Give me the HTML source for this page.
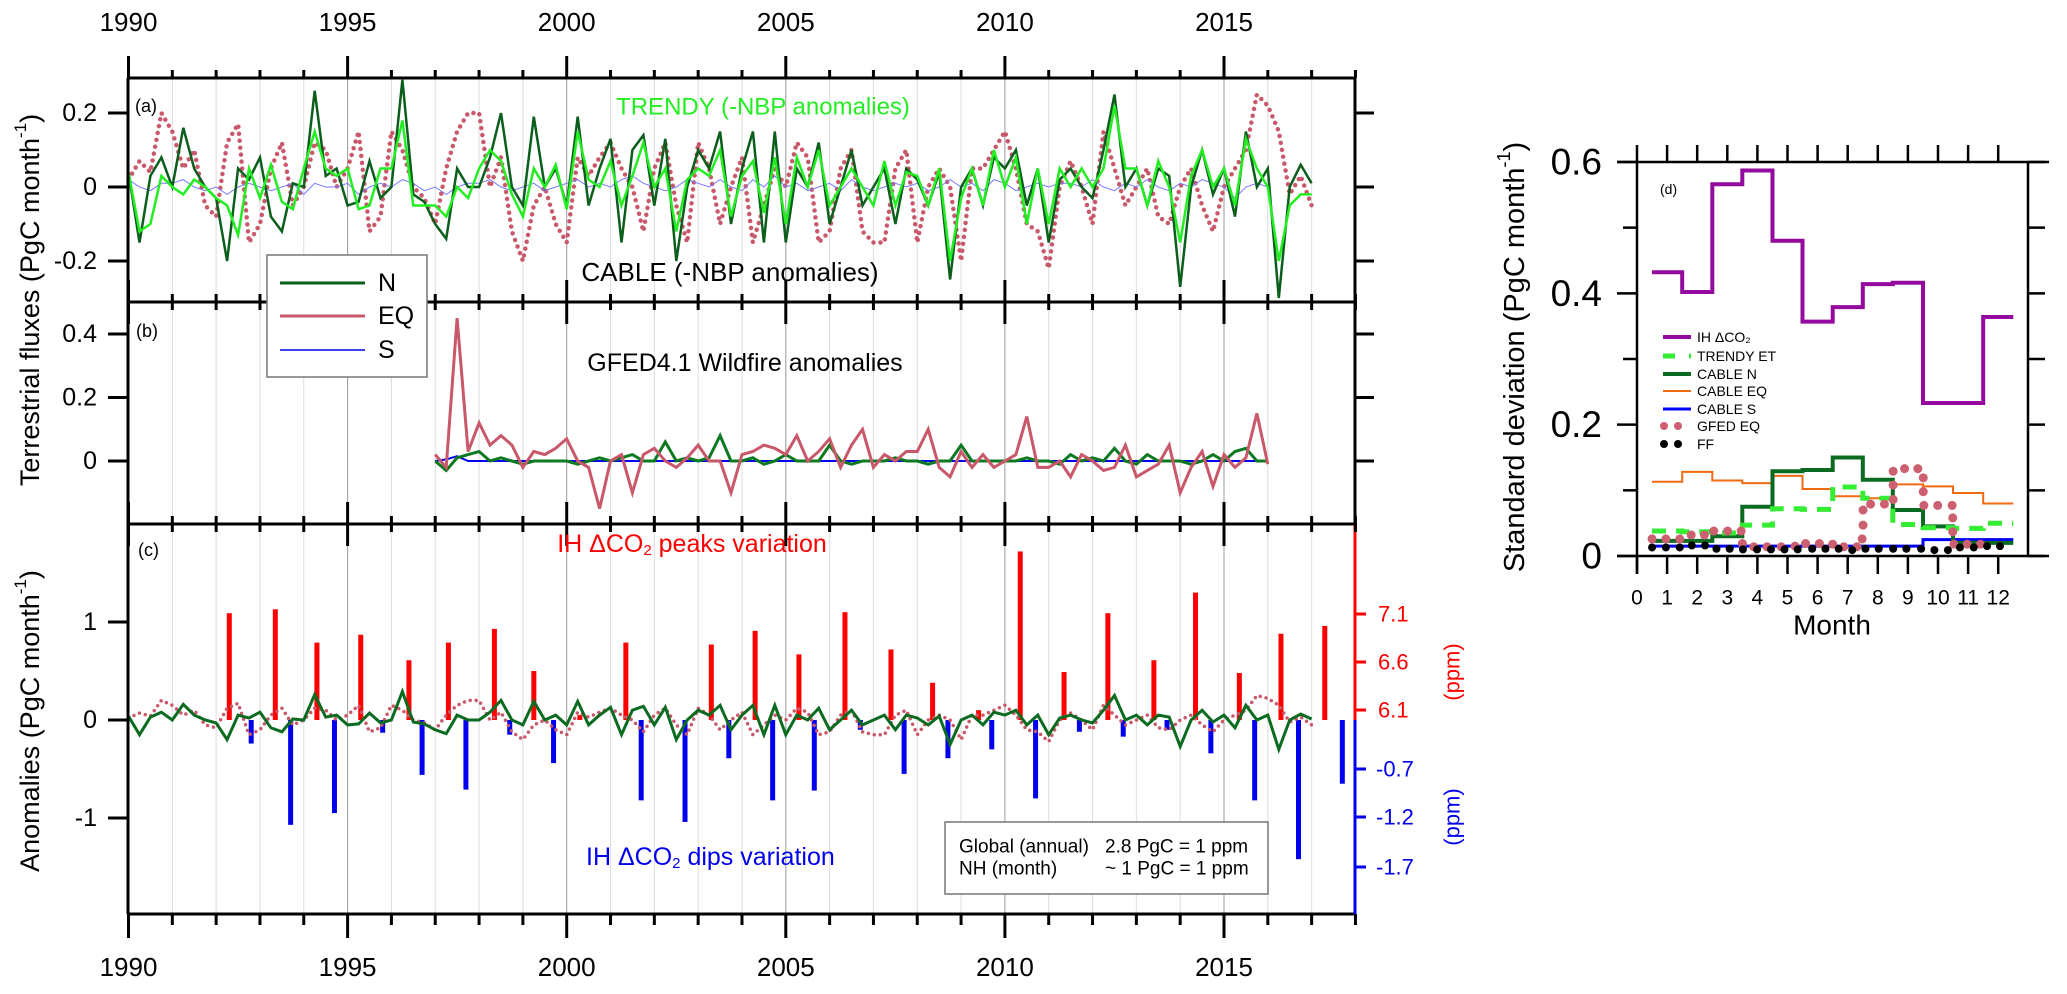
<!DOCTYPE html>
<html><head><meta charset="utf-8"><style>
html,body{margin:0;padding:0;background:#fff;}
svg{display:block;font-family:"Liberation Sans",Arial,sans-serif;}
</style></head><body>
<svg id="chart" width="2067" height="994" viewBox="0 0 2067 994" xmlns="http://www.w3.org/2000/svg"></svg>
<script>
// ---------- data: panels a/c (quarterly from 1990.0) ----------
const nA = [0.04,-0.15,0.03,0.08, 0.0,0.16,0.05,0.0, -0.03,-0.2,0.05,0.02, 0.08,-0.08,-0.12,0.01, 0.0,0.26,0.03,0.05, -0.05,-0.04,0.07,-0.03, 0.0,0.29,-0.02,-0.04, -0.1,-0.14,0.05,0.0, 0.0,0.08,0.2,0.0, -0.05,0.19,0.0,0.05, -0.05,0.19,-0.05,0.05, 0.13,-0.15,0.1,0.14, -0.05,0.13,-0.2,0.0, 0.1,0.05,0.15,-0.1, 0.05,0.15,-0.15,0.15, -0.15,0.05,0.0,0.12, -0.1,0.0,0.1,-0.05, 0.0,0.05,-0.1,0.05, 0.02,-0.05,0.04,-0.25, 0.0,0.05,-0.05,0.08, 0.05,0.1,-0.05,0.05, -0.15,0.02,0.05,0.0, -0.03,0.1,0.25,0.0, 0.05,-0.05,0.05,0.03, -0.27,0.0,0.1,-0.02, 0.05,-0.08,0.15,0.0, 0.05,-0.3,0.0,0.06, 0.01];
const trendyA = [0.04,-0.12,-0.1,0.03, 0.0,-0.02,0.02,0.0, -0.03,-0.05,-0.13,0.05, -0.03,0.06,-0.04,-0.06, 0.05,0.15,0.05,0.03, 0.05,-0.06,-0.05,0.05, 0.05,0.18,-0.05,-0.05, -0.05,-0.08,0.0,-0.03, 0.05,0.1,0.07,-0.02, -0.08,0.05,0.0,0.06, -0.06,0.15,0.02,0.0, 0.07,-0.05,0.03,0.12, 0.0,0.05,-0.12,0.02, 0.05,0.03,0.1,-0.08, 0.03,0.07,-0.07,0.08, -0.1,0.08,0.0,0.1, -0.05,0.0,0.05,0.0, -0.05,0.07,-0.05,0.04, 0.03,-0.05,0.05,-0.2, -0.03,0.05,-0.05,0.1, 0.0,0.08,-0.1,0.05, -0.1,0.05,0.0,0.05, 0.0,0.05,0.22,0.05, 0.05,-0.05,0.07,0.0, -0.15,0.03,0.1,0.0, 0.05,-0.05,0.13,0.05, 0.0,-0.2,-0.05,-0.02, -0.02];
const eqA = [0.02,0.07,0.04,0.2, 0.15,0.05,0.1,-0.05, -0.08,0.12,0.17,-0.15, -0.1,0.05,0.12,-0.05, 0.0,0.12,0.1,0.0, 0.05,0.15,-0.12,-0.08, 0.15,0.1,0.0,-0.03, -0.1,0.05,0.15,0.2, 0.2,0.0,0.08,-0.12, -0.2,-0.05,0.0,-0.1, -0.15,0.08,0.03,0.08, 0.12,0.05,0.0,-0.12, 0.05,0.12,-0.05,-0.15, 0.12,0.05,-0.1,0.0, 0.08,-0.15,-0.05,0.05, 0.0,0.12,0.08,-0.15, -0.12,0.05,0.1,-0.12, -0.15,-0.15,0.05,0.1, -0.15,0.0,0.05,0.0, -0.2,0.05,0.05,0.1, 0.15,0.05,-0.1,-0.12, -0.22,0.0,0.07,0.0, -0.1,0.15,0.05,-0.05, 0.0,0.05,-0.08,-0.1, 0.0,0.05,-0.05,-0.12, 0.0,0.05,0.1,0.25, 0.22,0.15,-0.02,0.03, -0.05];
const sA = [0.02,0.0,-0.01,0.01, 0.01,0.02,0.0,-0.01, 0.0,-0.02,0.0,0.01, 0.0,-0.01,0.0,0.01, -0.02,0.01,0.0,0.0, 0.01,-0.02,0.0,0.01, 0.0,0.02,0.01,-0.01, 0.0,-0.02,0.0,0.01, 0.01,0.02,0.0,-0.01, 0.0,0.01,-0.01,0.0, 0.01,0.02,0.0,0.01, 0.0,0.02,0.03,0.01, 0.0,-0.01,0.0,0.02, 0.01,0.0,0.02,0.0, -0.01,0.02,0.0,0.03, 0.0,0.01,-0.01,0.0, 0.01,-0.01,0.02,0.0, -0.01,0.0,0.01,0.0, 0.01,-0.01,0.0,0.02, 0.0,0.01,-0.01,0.02, 0.01,-0.01,0.0,0.01, 0.0,0.01,0.01,0.0, 0.02,0.0,-0.01,0.01, 0.0,0.02,0.0,-0.01, 0.01,0.0,0.02,0.01, 0.0,-0.03,0.0,0.01, 0.0];
// ---------- data: panel b (quarterly from 1997.0) ----------
const eqB = [0.02,-0.02,0.45,0.03, 0.12,0.05,0.08,0.05, -0.02,0.03,0.02,0.04, 0.07,0.0,-0.02,-0.15, 0.0,0.02,-0.1,0.02, 0.04,0.0,-0.02,0.01, 0.05,0.0,0.0,-0.1, 0.02,0.03,0.05,0.04, 0.02,0.08,0.0,0.03, 0.07,-0.02,0.05,0.1, -0.02,0.02,0.0,0.03, 0.03,0.1,-0.02,-0.05, 0.03,-0.02,0.02,-0.02, 0.0,0.02,0.14,-0.02, -0.02,0.0,-0.05,0.02, 0.0,-0.03,-0.02,0.05, -0.05,-0.03,-0.01,0.05, -0.1,-0.02,0.03,-0.08, 0.02,-0.02,0.01,0.15, -0.01];
const nB = [0.0,-0.03,0.01,0.02, 0.03,0.0,0.01,0.0, -0.01,0.0,0.0,0.0, 0.0,-0.01,0.0,0.01, 0.0,0.01,0.02,0.0, 0.0,0.06,0.0,0.01, 0.0,0.01,0.08,0.0, 0.0,0.01,-0.01,0.0, 0.02,0.0,0.0,0.0, 0.05,0.0,-0.01,0.0, 0.0,0.0,0.01,0.0, 0.0,-0.01,0.0,0.0, 0.05,0.0,0.0,0.0, 0.0,0.0,0.01,0.0, 0.0,-0.01,0.02,0.0, 0.01,0.0,0.04,0.0, -0.01,0.02,0.0,0.0, 0.0,-0.01,0.0,0.02, 0.0,0.03,0.04,0.0, 0.0];
const sB = [0.0,0.005,0.015,0.0, 0.0,0.0,0.0,0.0, 0.0,0.0,0.0,0.0, 0.0,0.0,0.0,0.0, 0.0,0.0,0.0,0.0, 0.0,0.0,0.0,0.0, 0.0,0.0,0.0,0.0, 0.0,0.0,0.0,0.0, 0.0,0.0,0.0,0.0, 0.0,0.0,0.0,0.0, 0.0,0.0,0.0,0.0, 0.0,0.0,0.0,0.0, 0.0,0.0,0.0,0.0, 0.0,0.0,0.0,0.0, 0.0,0.0,0.0,0.0, 0.0,0.0,0.0,0.0, 0.0,0.0,0.0,0.0, 0.0,0.0,0.0,0.0, 0.0,0.0,0.0,0.0, 0.0];
// ---------- data: panel c bars ----------
const peakYears = [1992.3,1993.35,1994.3,1995.3,1996.4,1997.3,1998.35,1999.25,2000.3,2001.35,2003.3,2004.3,2005.3,2006.35,2007.4,2008.35,2009.4,2010.35,2011.35,2012.35,2013.4,2014.35,2015.35,2016.3,2017.3];
const peakVals  = [1.09,1.13,0.79,0.87,0.61,0.79,0.93,0.50,0.05,0.79,0.77,0.91,0.67,1.10,0.72,0.38,0.10,1.72,0.49,1.09,0.61,1.30,0.48,0.88,0.96];
const dipYears = [1992.8,1993.7,1994.7,1995.8,1996.7,1997.7,1998.7,1999.7,2001.7,2002.7,2003.7,2004.7,2005.65,2006.7,2007.7,2008.7,2009.7,2010.7,2011.7,2012.7,2013.7,2014.7,2015.7,2016.7,2017.7];
const dipVals  = [-0.24,-1.07,-0.95,-0.13,-0.56,-0.71,-0.15,-0.44,-0.82,-1.04,-0.39,-0.82,-0.72,-0.10,-0.55,-0.39,-0.30,-0.80,-0.12,-0.17,-0.10,-0.34,-0.82,-1.42,-0.65];
const peakTicks = ["7.1","6.6","6.1"];
const dipTicks = ["-0.7","-1.2","-1.7"];
// ---------- data: panel d ----------
const months = [1,2,3,4,5,6,7,8,9,10,11,12];
const ihStd = [0.432,0.402,0.566,0.587,0.480,0.357,0.379,0.414,0.416,0.233,0.233,0.364];
const trendyStd = [0.038,0.037,0.035,0.047,0.072,0.071,0.105,0.088,0.048,0.043,0.042,0.050];
const cableNStd = [0.023,0.023,0.030,0.075,0.129,0.131,0.150,0.116,0.070,0.045,0.020,0.020];
const cableEQStd = [0.113,0.128,0.115,0.111,0.122,0.102,0.091,0.088,0.109,0.106,0.096,0.080];
const cableSStd = [0.015,0.015,0.015,0.015,0.015,0.015,0.015,0.015,0.015,0.025,0.025,0.025];
const gfedX = [0.50,0.96,1.42,1.80,2.24,2.55,3.01,3.46,3.50,3.88,4.32,4.79,5.25,5.60,6.06,6.50,6.87,7.31,7.48,7.51,7.51,7.76,8.22,8.51,8.51,8.51,8.89,9.33,9.51,9.51,9.53,9.99,10.47,10.49,10.49,10.53,10.97,11.41];
const gfedY = [0.026,0.026,0.026,0.032,0.032,0.038,0.038,0.038,0.019,0.014,0.014,0.014,0.015,0.019,0.019,0.018,0.014,0.014,0.026,0.047,0.070,0.079,0.079,0.086,0.108,0.129,0.133,0.133,0.119,0.098,0.077,0.077,0.077,0.058,0.037,0.018,0.018,0.018];
const ffX = [0.5,0.96,1.42,1.82,2.26,2.64,3.08,3.52,3.99,4.45,4.9,5.34,5.82,6.26,6.7,7.15,7.59,8.03,8.51,8.95,9.44,9.88,10.33,10.73,11.19,11.63,12.06];
const ffY = [0.013,0.013,0.013,0.016,0.016,0.011,0.011,0.010,0.010,0.010,0.010,0.010,0.011,0.011,0.011,0.009,0.011,0.011,0.011,0.011,0.011,0.009,0.009,0.013,0.013,0.015,0.015];
const yearLabels = ["1990","1995","2000","2005","2010","2015"];
const monthLabels = ["0","1","2","3","4","5","6","7","8","9","10","11","12"];

// ---------- scales ----------
const xT = y => 128.5 + (y-1990)*43.82;
const ya = v => 187 - v*370;
const yb = v => 461 - v*317.5;
const yc = v => 720 - v*98;
const xm = m => 1637 + m*30.1;
const yd = v => 556 - v*656.7;

const svg = document.getElementById('chart');
const NS = 'http://www.w3.org/2000/svg';
function mk(tag, attrs, parent){
  const e = document.createElementNS(NS, tag);
  for (const k in attrs) e.setAttribute(k, attrs[k]);
  (parent||svg).appendChild(e);
  return e;
}
function line(x1,y1,x2,y2,stroke,w){ return mk('line',{x1:x1,y1:y1,x2:x2,y2:y2,stroke:stroke,'stroke-width':w}); }
function txt(x,y,s,size,fill,anchor){ const t=mk('text',{x:x,y:y,'font-size':size,fill:fill||'#000','text-anchor':anchor||'middle','dominant-baseline':'central'}); t.textContent=s; return t; }
function polyPts(arr, t0, dt, sx, sy){ return arr.map((v,i)=> sx(t0+i*dt).toFixed(1)+','+sy(v).toFixed(1)).join(' '); }

// ---------- gridlines ----------
for (let y=1991; y<=2017; y++){
  const g = line(xT(y),78,xT(y),914, (y%5===0)?'#999':'#ddd', 1);
  
  
}

// ---------- panel a series ----------
let el;
el = mk('polyline',{points:polyPts(eqA,1990,0.25,xT,ya),fill:'none',stroke:'#c8586a','stroke-width':4.5,'stroke-dasharray':'0 7','stroke-linecap':'round'});


el = mk('polyline',{points:polyPts(sA,1990,0.25,xT,ya),fill:'none',stroke:'#7a7aff','stroke-width':1});


el = mk('polyline',{points:polyPts(nA,1990,0.25,xT,ya),fill:'none',stroke:'#0b5e1c','stroke-width':2.5});


el = mk('polyline',{points:polyPts(trendyA,1990,0.25,xT,ya),fill:'none',stroke:'#22ee22','stroke-width':2.5});



// ---------- panel b series ----------
el = mk('polyline',{points:polyPts(sB,1997,0.25,xT,yb),fill:'none',stroke:'#0000ee','stroke-width':2});


el = mk('polyline',{points:polyPts(nB,1997,0.25,xT,yb),fill:'none',stroke:'#0d7a22','stroke-width':3});


el = mk('polyline',{points:polyPts(eqB,1997,0.25,xT,yb),fill:'none',stroke:'#c8586a','stroke-width':3});



// ---------- panel c bars & lines ----------
peakYears.forEach((yr,i)=>{
  const b = mk('rect',{x:xT(yr)-2.5,y:yc(peakVals[i]),width:5,height:yc(0)-yc(peakVals[i]),fill:'#ff0000'});
  
  
});
dipYears.forEach((yr,i)=>{
  const b = mk('rect',{x:xT(yr)-2.5,y:yc(0),width:5,height:yc(dipVals[i])-yc(0),fill:'#0000ee'});
  
  
});
el = mk('polyline',{points:polyPts(eqA,1990,0.25,xT,yc),fill:'none',stroke:'#c8586a','stroke-width':3.5,'stroke-dasharray':'0 6','stroke-linecap':'round'});


el = mk('polyline',{points:polyPts(nA,1990,0.25,xT,yc),fill:'none',stroke:'#0b6b20','stroke-width':3});



// ---------- frames (left panels) ----------
[[128,78,1355,78],[128,302,1355,302],[128,524,1355,524],[128,914,1355,914],[128,78,128,914],[1355,78,1355,524]].forEach(c=>{
  const f = line(c[0],c[1],c[2],c[3],'#000',3);
  
  
});
el = line(1355,524,1355,720,'#ff0000',3);


el = line(1355,720,1355,914,'#0000ee',3);



// x ticks
for (let y=1990; y<=2018; y++){
  const x = xT(y), maj = (y%5===0);
  const t1 = line(x, maj?56:70, x, 78, '#000', 3);
  
  
  [302,524].forEach(yy=>{
    const t = line(x, yy-(maj?22:8), x, yy+(maj?22:8), '#000', 3);
    
    
  });
  const t2 = line(x, 914, x, maj?938:925, '#000', 3);
  
  
}
yearLabels.forEach(s=>{
  const x = xT(+s);
  const a = txt(x,22,s,26);
  
  
  const b = txt(x,967,s,26);
  
  
});

// y ticks left panels
const yTicks = [[ya(0.2),'0.2'],[ya(0),'0'],[ya(-0.2),'-0.2'],[yb(0.4),'0.4'],[yb(0.2),'0.2'],[yb(0),'0'],[yc(1),'1'],[yc(0),'0'],[yc(-1),'-1']];
yTicks.forEach(t=>{
  const a = line(108,t[0],128,t[0],'#000',3);
  
  
  const l = txt(97,t[0],t[1],25,'#000','end');
  
  
});
[ya(0.2),ya(0),ya(-0.2),yb(0.4),yb(0.2),yb(0)].forEach(y=>{
  const a = line(1355,y,1374,y,'#000',3);
  
  
});
[614,662,710].forEach((y,i)=>{
  const a = line(1355,y,1366,y,'#ff0000',3);
  
  
  const l = txt(1378,y,peakTicks[i],22,'#ff0000','start');
  
  
});
[769,817,867].forEach((y,i)=>{
  const a = line(1355,y,1366,y,'#0000ee',3);
  
  
  const l = txt(1376,y,dipTicks[i],22,'#0000ee','start');
  
  
});
</script>
<svg style="position:absolute;left:0;top:0" width="2067" height="994" xmlns="http://www.w3.org/2000/svg" font-family="Liberation Sans, Arial, sans-serif">
  <g>
    <text x="1452" y="672" font-size="22" fill="#ff0000" text-anchor="middle" dominant-baseline="central" transform="rotate(-90 1452 672)">(ppm)</text>
    <text x="1452" y="817" font-size="22" fill="#0000ee" text-anchor="middle" dominant-baseline="central" transform="rotate(-90 1452 817)">(ppm)</text>
  </g>
  <text x="30" y="300" font-size="27" text-anchor="middle" dominant-baseline="central" transform="rotate(-90 30 300)">Terrestrial fluxes (PgC month<tspan font-size="17" dy="-10">-1</tspan><tspan dy="10">)</tspan></text>
  <text x="30" y="721" font-size="27" text-anchor="middle" dominant-baseline="central" transform="rotate(-90 30 721)">Anomalies (PgC month<tspan font-size="17" dy="-10">-1</tspan><tspan dy="10">)</tspan></text>
  <text x="135" y="106" font-size="18" dominant-baseline="central">(a)</text>
  <text x="136" y="331" font-size="18" dominant-baseline="central">(b)</text>
  <text x="138" y="550" font-size="18" dominant-baseline="central">(c)</text>
  <text x="763" y="107" font-size="24" fill="#22ee22" text-anchor="middle" dominant-baseline="central">TRENDY (-NBP anomalies)</text>
  <text x="730" y="272" font-size="26" text-anchor="middle" dominant-baseline="central">CABLE (-NBP anomalies)</text>
  <text x="745" y="363" font-size="25" text-anchor="middle" dominant-baseline="central">GFED4.1 Wildfire anomalies</text>
  <text x="692" y="544" font-size="25" fill="#ff0000" text-anchor="middle" dominant-baseline="central">IH ΔCO<tspan font-size="15" dy="6">2</tspan><tspan dy="-6"> peaks variation</tspan></text>
  <text x="586" y="857" font-size="25" fill="#0000ee" dominant-baseline="central">IH ΔCO<tspan font-size="15" dy="6">2</tspan><tspan dy="-6"> dips variation</tspan></text>
  <g>
    <rect x="945" y="822" width="323" height="72" fill="#fff" stroke="#777" stroke-width="1.5"/>
    <text x="959" y="847" font-size="19" dominant-baseline="central">Global (annual)</text>
    <text x="1105" y="847" font-size="19" dominant-baseline="central">2.8 PgC = 1 ppm</text>
    <text x="959" y="869" font-size="19" dominant-baseline="central">NH (month)</text>
    <text x="1105" y="869" font-size="19" dominant-baseline="central">~ 1 PgC = 1 ppm</text>
  </g>
  <g>
    <rect x="267" y="255" width="160" height="122" fill="#fff" stroke="#777" stroke-width="1.5"/>
    <line x1="280" y1="283" x2="365" y2="283" stroke="#0b5e1c" stroke-width="3"/>
    <text x="378" y="283" font-size="25" dominant-baseline="central">N</text>
    <line x1="280" y1="316" x2="365" y2="316" stroke="#c8586a" stroke-width="3"/>
    <text x="378" y="316" font-size="25" dominant-baseline="central">EQ</text>
    <line x1="280" y1="350" x2="365" y2="350" stroke="#0000ee" stroke-width="1.5"/>
    <text x="378" y="350" font-size="25" dominant-baseline="central">S</text>
  </g>
  <text x="1515" y="357" font-size="29" text-anchor="middle" dominant-baseline="central" transform="rotate(-90 1515 357)">Standard  deviation (PgC month<tspan font-size="18" dy="-11">-1</tspan><tspan dy="11">)</tspan></text>
  <text x="1832" y="625" font-size="28" text-anchor="middle" dominant-baseline="central">Month</text>
  <text x="1660" y="189" font-size="14" dominant-baseline="central">(d)</text>
  <g id="dplot"></g>
</svg>
<script>
(function(){
  const g = document.getElementById('dplot');
  function m(tag, attrs){ const e=document.createElementNS(NS,tag); for(const k in attrs) e.setAttribute(k,attrs[k]); g.appendChild(e); return e; }
  function stepPts(vals){ let p=[]; vals.forEach((v,i)=>{ p.push(xm(months[i]-0.5).toFixed(1)+','+yd(v).toFixed(1)); p.push(xm(months[i]+0.5).toFixed(1)+','+yd(v).toFixed(1)); }); return p.join(' '); }
  let e;
  e = m('polyline',{points:stepPts(cableEQStd),fill:'none',stroke:'#f06a10','stroke-width':2});
  
  
  e = m('polyline',{points:stepPts(cableSStd),fill:'none',stroke:'#0000ff','stroke-width':3});
  
  
  e = m('polyline',{points:stepPts(cableNStd),fill:'none',stroke:'#0b6b20','stroke-width':4});
  
  
  e = m('polyline',{points:stepPts(trendyStd),fill:'none',stroke:'#33ee33','stroke-width':5,'stroke-dasharray':'14 10'});
  
  
  e = m('polyline',{points:stepPts(ihStd),fill:'none',stroke:'#950a9e','stroke-width':4});
  
  
  gfedX.forEach((x,i)=>{
    const c = m('circle',{cx:xm(x),cy:yd(gfedY[i]),r:4.5,fill:'#cc6070'});
    
    
  });
  ffX.forEach((x,i)=>{
    const c = m('circle',{cx:xm(x),cy:yd(ffY[i]),r:4,fill:'#000'});
    
    
  });
  // frame
  [[1617,162,2049,162],[1617,556,2049,556],[1637,162,1637,574],[2028,162,2028,556]].forEach(c=>{
    const l = m('line',{x1:c[0],y1:c[1],x2:c[2],y2:c[3],stroke:'#000','stroke-width':2.5});
    
    
  });
  monthLabels.forEach((s,i)=>{
    const x = xm(i);
    const a = m('line',{x1:x,y1:145,x2:x,y2:162,stroke:'#000','stroke-width':2.5});
    
    
    const b = m('line',{x1:x,y1:556,x2:x,y2:574,stroke:'#000','stroke-width':2.5});
    
    
    const t = m('text',{x:x,y:598,'font-size':21,'text-anchor':'middle','dominant-baseline':'central'});
    t.textContent = s;
    
    
  });
  for (let k=0;k<=6;k++){
    const v = k/10, y = yd(v);
    const a = m('line',{x1:(k%2===0)?1617:1623,y1:y,x2:1637,y2:y,stroke:'#000','stroke-width':2.5});
    
    
    const b = m('line',{x1:2028,y1:y,x2:2045,y2:y,stroke:'#000','stroke-width':2.5});
    
    
    if (k%2===0){
      const t = m('text',{x:1602,y:y,'font-size':37,'text-anchor':'end','dominant-baseline':'central'});
      t.textContent = (k===0)?'0':v.toFixed(1);
      
      
    }
  }
  // legend d
  const leg = [
    ['IH ΔCO₂',{stroke:'#950a9e','stroke-width':4}],
    ['TRENDY ET',{stroke:'#33ee33','stroke-width':5,'stroke-dasharray':'12 14'}],
    ['CABLE N',{stroke:'#0b6b20','stroke-width':4}],
    ['CABLE EQ',{stroke:'#f06a10','stroke-width':2}],
    ['CABLE S',{stroke:'#0000ff','stroke-width':3}],
    ['GFED EQ',null,'#cc6070'],
    ['FF',null,'#000']
  ];
  const ly = [337,356,374,391,409,426,444];
  leg.forEach((d,i)=>{
    if (d[1]){
      const a = Object.assign({x1:1663,y1:ly[i],x2:1691,y2:ly[i]}, d[1]);
      const l = m('line',a);
      
      
    } else {
      [1664,1678].forEach(cx=>{
        const c = m('circle',{cx:cx,cy:ly[i],r:4,fill:d[2]});
        
        
      });
    }
    const t = m('text',{x:1697,y:ly[i],'font-size':14,'dominant-baseline':'central'});
    t.textContent = d[0];
    
    
  });
})();
</script>
</body></html>
